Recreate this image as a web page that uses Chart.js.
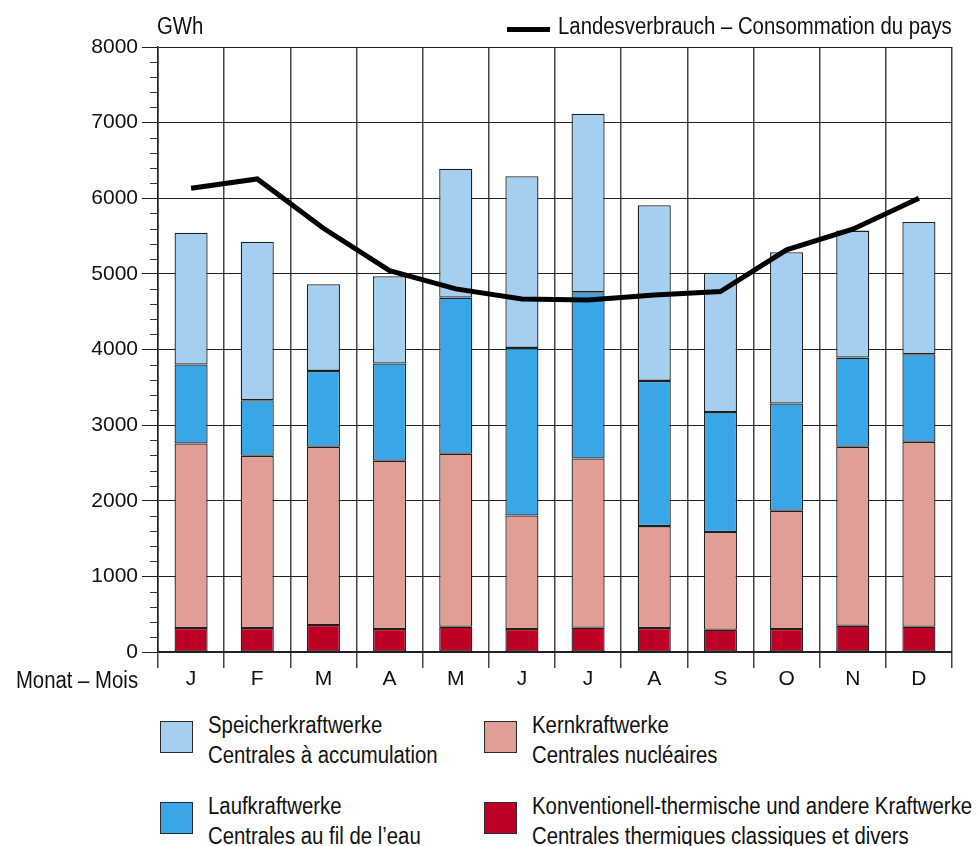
<!DOCTYPE html>
<html>
<head>
<meta charset="utf-8">
<script src="https://cdn.jsdelivr.net/npm/chart.js@4.4.1/dist/chart.umd.min.js"></script>
<style>
  body { margin: 0; background: #fff; font-family: "Liberation Sans", Arial, sans-serif; color: #111; }
  #wrap { position: relative; width: 979px; height: 846px; overflow: hidden; }
  #chart-box { position: absolute; left: 0; top: 0; width: 979px; height: 700px; }
  .txt { position: absolute; font-size: 23px; line-height: 30px; white-space: nowrap; transform: scaleX(0.885); transform-origin: left top; }
  .txt.right { transform-origin: right top; }
  .swatch { position: absolute; width: 31px; height: 30px; border: 1.5px solid #2a2a2a; }
  .line-key { position: absolute; left: 507px; top: 27px; width: 43px; height: 5px; background: #000; }
</style>
</head>
<body>
<div id="wrap">
  <div id="chart-box"><canvas id="basic-chart"></canvas></div>

  <div class="txt" style="left:157px; top:11px;">GWh</div>
  <div class="line-key"></div>
  <div class="txt" style="left:558px; top:11px;">Landesverbrauch – Consommation du pays</div>
  <div class="txt right" style="right:841px; top:665px;">Monat – Mois</div>

  <div class="swatch" style="left:160px; top:721px; background:#a4cff1;"></div>
  <div class="txt" style="left:208px; top:710px;">Speicherkraftwerke<br>Centrales à accumulation</div>
  <div class="swatch" style="left:484px; top:721px; background:#e09e96;"></div>
  <div class="txt" style="left:532px; top:710px;">Kernkraftwerke<br>Centrales nucléaires</div>
  <div class="swatch" style="left:160px; top:802px; background:#38a6e7;"></div>
  <div class="txt" style="left:208px; top:791px;">Laufkraftwerke<br>Centrales au fil de l’eau</div>
  <div class="swatch" style="left:484px; top:802px; background:#be0026;"></div>
  <div class="txt" style="left:532px; top:791px;">Konventionell-thermische und andere Kraftwerke<br>Centrales thermiques classiques et divers</div>
</div>

<script>
// Monthly values in GWh
const months = ['J', 'F', 'M', 'A', 'M', 'J', 'J', 'A', 'S', 'O', 'N', 'D']
const thermal = [317, 317, 357, 304, 334, 304, 321, 317, 295, 304, 348, 334]
const nuclear = [2440, 2277, 2356, 2224, 2287, 1501, 2238, 1348, 1291, 1563, 2365, 2445]
const runOfRiver = [1044, 736, 1004, 1286, 2065, 2216, 2198, 1920, 1586, 1418, 1180, 1159]
const storage = [1744, 2096, 1146, 1155, 1705, 2269, 2361, 2322, 1840, 2001, 1679, 1749]
const consumption = [6132, 6255, 5603, 5043, 4801, 4669, 4656, 4722, 4766, 5317, 5590, 6000]

const TICK_FONT = { family: '"Liberation Sans", Arial, sans-serif', size: 21 }

function barSet(label, data, color) {
  return {
    type: 'bar',
    label: label,
    data: data,
    backgroundColor: color,
    borderColor: '#1f1f1f',
    borderWidth: 1.3,
    borderSkipped: false,
    barPercentage: 0.5,
    categoryPercentage: 1,
    stack: 'prod',
    order: 1
  }
}

// small ticks every 200 GWh on the left axis
const minorTicks = {
  id: 'minorTicks',
  afterDraw(chart) {
    const y = chart.scales.y
    const ctx = chart.ctx
    ctx.save()
    ctx.strokeStyle = '#333'
    ctx.lineWidth = 1
    for (let v = 0; v <= 8000; v += 200) {
      if (v % 1000 === 0) continue
      const py = Math.round(y.getPixelForValue(v)) + 0.5
      ctx.beginPath()
      ctx.moveTo(y.left + y.width - 8, py)
      ctx.lineTo(y.left + y.width, py)
      ctx.stroke()
    }
    ctx.restore()
  }
}

const config = {
  data: {
    labels: months,
    datasets: [
      {
        type: 'line',
        label: 'Landesverbrauch – Consommation du pays',
        data: consumption,
        borderColor: '#000',
        borderWidth: 5,
        pointRadius: 0,
        tension: 0,
        fill: false,
        stack: 'cons',
        order: 0
      },
      barSet('Konventionell-thermische und andere Kraftwerke', thermal, '#be0026'),
      barSet('Kernkraftwerke', nuclear, '#e09e96'),
      barSet('Laufkraftwerke', runOfRiver, '#38a6e7'),
      barSet('Speicherkraftwerke', storage, '#a4cff1')
    ]
  },
  options: {
    responsive: false,
    animation: false,
    layout: { padding: { top: 47, right: 27, left: 0, bottom: 0 } },
    plugins: { legend: { display: false }, tooltip: { enabled: false } },
    scales: {
      x: {
        stacked: true,
        offset: true,
        grid: { offset: true, color: '#444', lineWidth: 1.5, tickLength: 16 },
        border: { color: '#222', width: 1.5 },
        ticks: { color: '#111', font: TICK_FONT, padding: -1, maxRotation: 0, autoSkip: false },
        afterFit(scale) { scale.height = 48 }
      },
      y: {
        stacked: true,
        min: 0,
        max: 8000,
        grid: { color: '#222', lineWidth: 1, tickLength: 16 },
        border: { color: '#222', width: 1.5 },
        ticks: {
          stepSize: 1000,
          color: '#111',
          font: TICK_FONT,
          padding: 4,
          callback: (value) => String(value)
        },
        afterFit(scale) { scale.width = 158 }
      }
    }
  },
  plugins: [minorTicks]
}

const canvas = document.getElementById('basic-chart')
canvas.width = 979
canvas.height = 700
new Chart(canvas, config)
</script>
</body>
</html>
